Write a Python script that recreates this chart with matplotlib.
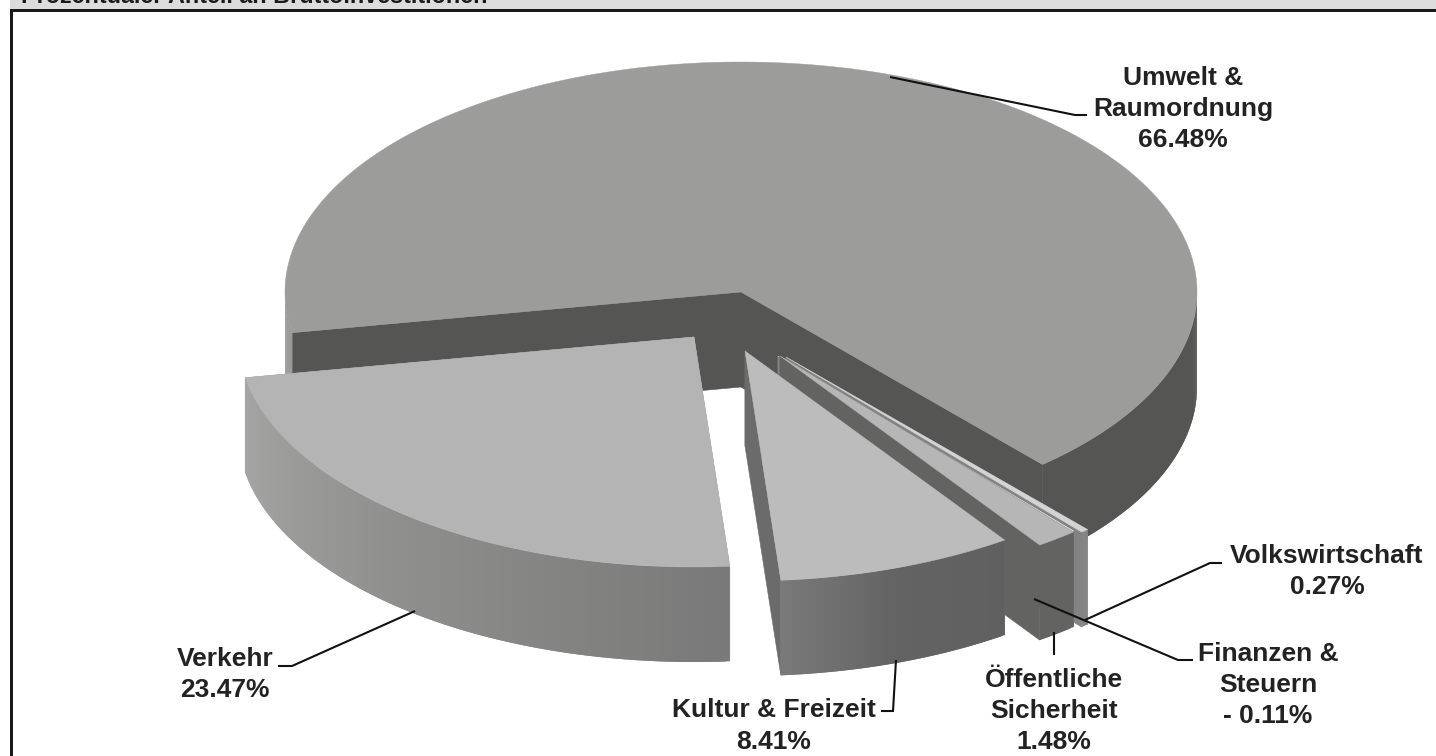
import numpy as np
import matplotlib
matplotlib.use("Agg")
import matplotlib.pyplot as plt
from matplotlib.collections import PolyCollection
from matplotlib.patches import Rectangle, Polygon

plt.rcParams['font.family'] = ['Liberation Sans', 'DejaVu Sans']

title = "Prozentualer Anteil an Bruttoinvestitionen"
categories = ["Umwelt &\nRaumordnung", "Volkswirtschaft", "Finanzen &\nSteuern",
              "Öffentliche\nSicherheit", "Kultur & Freizeit", "Verkehr"]
values = [66.48, 0.27, -0.11, 1.48, 8.41, 23.47]
value_labels = ["66.48%", "0.27%", "- 0.11%", "1.48%", "8.41%", "23.47%"]

# style / layout
CX, CY, RX, RY, DEPTH = 741, 292, 456, 230, 95
START = 169.8
centers = [(741, 292), (786, 357), (778, 356), (780, 356), (745, 351), (694, 337)]
top_cols = ["#9c9c9a", "#d4d4d4", "#f2f2f2", "#b6b6b6", "#bcbcbc", "#b4b4b4"]
radial_cols = ["#555553", "#838383", "#838383", "#636361", "#6b6b6b", "#a4a4a4"]
wall_stops = [[(0, "#555553"), (90, "#555553"), (90.1, "#9b9b99"), (180, "#9b9b99")],
              [(0, "#858585"), (180, "#858585")],
              [(0, "#838383"), (180, "#838383")],
              [(0, "#636361"), (180, "#636361")],
              [(55, "#606060"), (70, "#636363"), (86, "#7b7b7b")],
              [(85, "#797979"), (130, "#8f8f8d"), (170, "#a6a6a6")]]
draw_order = [0, 5, 1, 2, 3, 4]
label_pos = [(1183, 109), (1327, 571.5), (1268, 685), (1054, 711), (774, 726), (225, 674.5)]
leaders = [[(890, 77), (1075, 115), (1087, 115)],
           [(1085, 620), (1210, 563), (1222, 563)],
           [(1034, 599), (1178, 660), (1193, 660)],
           [(1054, 632), (1054, 655)],
           [(896, 660), (893, 711), (881, 711)],
           [(415, 611), (292, 666), (278, 666)]]

fig = plt.figure(figsize=(14.36, 7.56), dpi=100, facecolor="white")
ax = fig.add_axes([0, 0, 1, 1])
ax.set_xlim(0, 1436)
ax.set_ylim(756, 0)
ax.axis("off")

# header band and the frame's top and left lines
ax.add_patch(Rectangle((10, 0), 1426, 8.5, fc="#dcdcdc", ec="none", zorder=0))
ax.add_patch(Rectangle((9.5, 8.5), 1427, 3.5, fc="#1a1a1a", ec="none", zorder=0.5))
ax.add_patch(Rectangle((9.5, 8.5), 3.2, 748, fc="#1a1a1a", ec="none", zorder=0.5))
ax.text(21, 3, title, fontsize=16.85, fontweight="bold", color="#1a1a1a", va="baseline", ha="left", zorder=1)

spans = np.abs(values) / np.sum(np.abs(values)) * 360.0
ends = START + np.cumsum(spans)
starts = ends - spans


def rim(c, t):
    t = np.radians(t)
    return np.column_stack([c[0] + RX * np.cos(t), c[1] + RY * np.sin(t)])


def wall_color(stops, t):
    ts = [s[0] for s in stops]
    rgbs = np.array([matplotlib.colors.to_rgb(s[1]) for s in stops])
    return [np.interp(t, ts, rgbs[:, k]) for k in range(3)]


def arc_wall(c, t0, t1, stops, z):
    """Outer wall between angles t0 and t1, as overlapping strips so no seams show."""
    n = max(int(abs(t1 - t0) * 2), 1)
    ts = np.linspace(t0, t1, n + 1)
    p = rim(c, ts)
    polys, cols = [], []
    for k in range(n):
        m = min(k + 2, n)
        outline = p[k:m + 1]
        polys.append(np.vstack([outline, outline[::-1] + [0, DEPTH]]))
        cols.append(wall_color(stops, (ts[k] + ts[k + 1]) / 2))
    ax.add_collection(PolyCollection(polys[::-1], facecolors=cols[::-1], edgecolors="none", zorder=z))


z = 2.0
for i in draw_order:
    c, s, e = centers[i], starts[i], ends[i]
    a, b = rim(c, [s])[0], rim(c, [e])[0]
    for r in (a, b):
        ax.add_patch(Polygon([c, r, r + [0, DEPTH], (c[0], c[1] + DEPTH)],
                             fc=radial_cols[i], ec=radial_cols[i], lw=0.4, zorder=z))
    # visible outer wall: only the front half of the ellipse (0..180 degrees)
    for lo, hi in ((s, e), (s - 360, e - 360)):
        l, h = max(lo, 0), min(hi, 180)
        if l < h:
            arc_wall(c, l, h, wall_stops[i], z + 0.1)
    ts = np.linspace(s, e, max(int(e - s) * 2, 2) + 1)
    ax.add_patch(Polygon(np.vstack([[c], rim(c, ts)]), fc=top_cols[i], ec=top_cols[i], lw=0.3, zorder=z + 0.2))
    z += 1

for i, (name, val) in enumerate(zip(categories, value_labels)):
    ax.text(*label_pos[i], name + "\n" + val, fontsize=19, fontweight="bold", color="#222222",
            ha="center", va="center", multialignment="center", linespacing=1.38, zorder=20)
    xs, ys = zip(*leaders[i])
    ax.plot(xs, ys, color="#111111", lw=1.5, zorder=19, solid_capstyle="butt", solid_joinstyle="miter")

fig.savefig("out.png", dpi=100, facecolor="white")
